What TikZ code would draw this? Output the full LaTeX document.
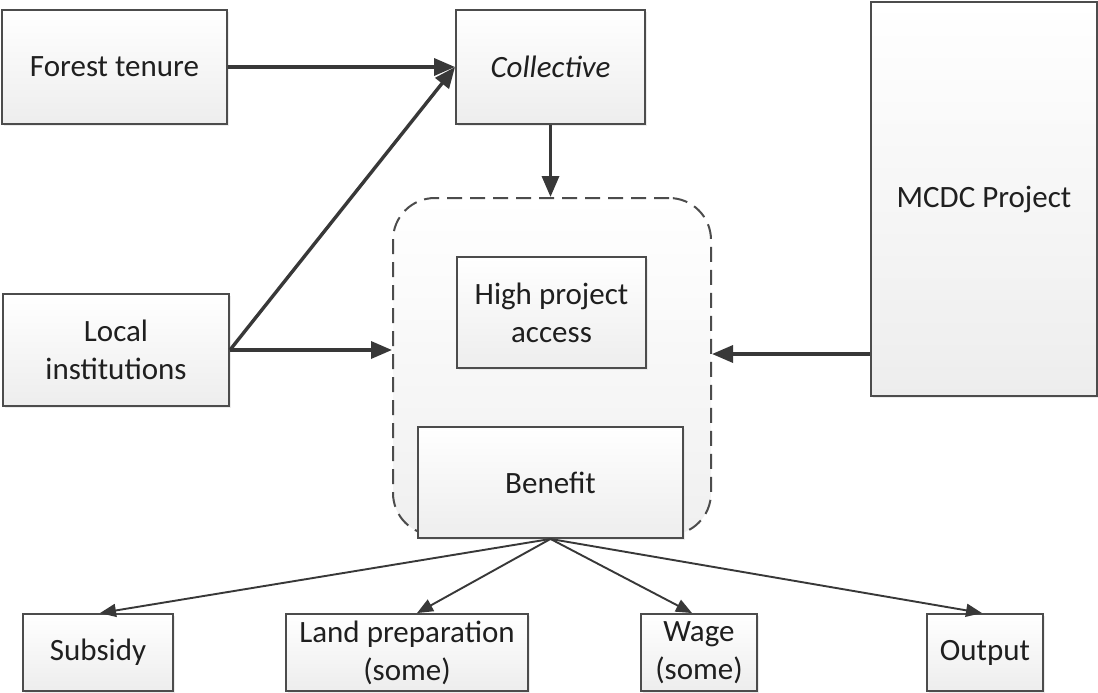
\documentclass[tikz,border=0pt]{standalone}
\usepackage{fontspec}
\setmainfont{Carlito}
\usetikzlibrary{arrows.meta,shadows,calc}
\tikzset{
  box/.style={draw=black!70, line width=1.9pt, top color=white, bottom color=black!7,
    align=center, inner sep=2pt, font=\fontsize{31}{38}\selectfont, text=black!88,
    drop shadow={shadow xshift=2pt, shadow yshift=-2pt, fill=black!12, opacity=0.6}},
  group/.style={draw=black!70, line width=2pt, dash pattern=on 15pt off 8pt,
    rounded corners=42pt, top color=white, bottom color=black!6},
  bigarrow/.style={draw=black!78, line width=3.4pt, -{Triangle[length=21pt,width=17pt]}},
  thinarrow/.style={draw=black!78, line width=1.9pt, -{Triangle[length=16pt,width=13pt]}},
}
\begin{document}
\begin{tikzpicture}[x=1pt,y=-1pt]
  \useasboundingbox[fill=white] (0,0) rectangle (1098,693);

  % dashed grouping region
  \node[group, minimum width=318pt, minimum height=337pt] (region) at (552,366.5) {};

  % upper row and side boxes
  \node[box, minimum width=225pt, minimum height=114pt] (ft) at (114.5,67) {Forest tenure};
  \node[box, minimum width=189pt, minimum height=114pt] (col) at (550.5,67) {\itshape Collective};
  \node[box, minimum width=226pt, minimum height=112pt] (li) at (116,350) {Local\\institutions};
  \node[box, minimum width=226pt, minimum height=394pt] (mcdc) at (984,199) {MCDC Project};

  % boxes inside the group
  \node[box, minimum width=189pt, minimum height=111pt] (hpa) at (551.5,312.5) {High project\\access};
  \node[box, minimum width=265pt, minimum height=111pt] (ben) at (550.5,482.5) {Benefit};

  % outcome boxes
  \node[box, minimum width=150pt, minimum height=77pt] (sub) at (98,652.5) {Subsidy};
  \node[box, minimum width=242pt, minimum height=77pt] (land) at (407,652.5) {Land preparation\\(some)};
  \node[box, minimum width=116pt, minimum height=77pt] (wage) at (699,652.5) {Wage\\(some)};
  \node[box, minimum width=116pt, minimum height=77pt] (out) at (985,652.5) {Output};

  % connectors
  \draw[bigarrow] (ft.east) -- (col.west);
  \draw[bigarrow] (li.east) -- (col.west);
  \draw[bigarrow] (li.east) -- (li.east -| region.west);
  \draw[bigarrow] (col.south) -- (col.south |- region.north);
  \coordinate (mw) at ([yshift=-4pt]mcdc.west |- li.east);
  \draw[bigarrow] (mw) -- (mw -| region.east);

  \draw[thinarrow] (ben.south) -- ([xshift=2pt]sub.north);
  \draw[thinarrow] (ben.south) -- ([xshift=10pt]land.north);
  \draw[thinarrow] (ben.south) -- ([xshift=-7pt]wage.north);
  \draw[thinarrow] (ben.south) -- ([xshift=-3pt]out.north);
\end{tikzpicture}
\end{document}
